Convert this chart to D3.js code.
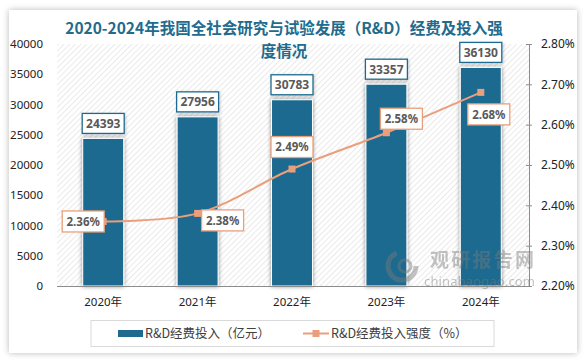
<!DOCTYPE html>
<html>
<head>
<meta charset="utf-8">
<script src="https://cdn.jsdelivr.net/npm/d3@7"></script>
<style>
  body { margin: 0; background: #fff; }
  svg { display: block; }
</style>
</head>
<body>
<svg id="chart" width="585" height="360"></svg>
<script>
// data
const years = ['2020年', '2021年', '2022年', '2023年', '2024年'];
const rdSpend = [24393, 27956, 30783, 33357, 36130];          // 亿元
const rdIntensity = [2.36, 2.38, 2.49, 2.58, 2.68];           // %
const leftTicks = [0, 5000, 10000, 15000, 20000, 25000, 30000, 35000, 40000];
const rightTicks = [2.2, 2.3, 2.4, 2.5, 2.6, 2.7, 2.8];
const titleLines = ['2020-2024年我国全社会研究与试验发展（R&D）经费及投入强', '度情况'];
const legendNames = ['R&D经费投入（亿元）', 'R&D经费投入强度（%）'];

// label placement for the % boxes (dx, dy from the marker)
const pctLabelShift = [[-20, 0], [25, 7], [0, -22], [15, -14], [8, 22]];

const barColor = '#1f6b8f';
const lineColor = '#e99f7c';
const titleColor = '#216b8d';
const font = '"Noto Sans", "Noto Sans CJK SC", sans-serif';
const cjk = '"Noto Sans CJK SC", "Noto Sans", sans-serif';

const svg = d3.select('#chart');
const defs = svg.append('defs');

// card shadow
const cardShadow = defs.append('filter').attr('id', 'cardShadow')
  .attr('x', '-5%').attr('y', '-5%').attr('width', '110%').attr('height', '110%');
cardShadow.append('feDropShadow').attr('dx', 0).attr('dy', 0)
  .attr('stdDeviation', 3).attr('flood-color', '#000').attr('flood-opacity', 0.28);

// bar shadow
const barShadow = defs.append('filter').attr('id', 'barShadow')
  .attr('x', '-30%').attr('y', '-10%').attr('width', '160%').attr('height', '120%');
barShadow.append('feDropShadow').attr('dx', 0).attr('dy', 0)
  .attr('stdDeviation', 2).attr('flood-color', '#000').attr('flood-opacity', 0.45);

const boxShadow = defs.append('filter').attr('id', 'boxShadow')
  .attr('x', '-20%').attr('y', '-20%').attr('width', '140%').attr('height', '140%');
boxShadow.append('feDropShadow').attr('dx', 1).attr('dy', 1)
  .attr('stdDeviation', 1.5).attr('flood-color', '#000').attr('flood-opacity', 0.2);

// hatch background
const hatch = defs.append('pattern').attr('id', 'hatch')
  .attr('patternUnits', 'userSpaceOnUse').attr('width', 4).attr('height', 4)
  .attr('patternTransform', 'rotate(45)');
hatch.append('rect').attr('width', 4).attr('height', 4).attr('fill', '#fff');
hatch.append('line').attr('x1', 0).attr('y1', 0).attr('x2', 0).attr('y2', 4)
  .attr('stroke', '#d6d6d6').attr('stroke-width', 1);

// card
svg.append('rect').attr('x', 9).attr('y', 10).attr('width', 568).attr('height', 343)
  .attr('fill', '#fff').attr('filter', 'url(#cardShadow)');

const plotL = 57, plotR = 529, plotT = 44, plotB = 286;

svg.append('rect').attr('x', plotL).attr('y', plotT)
  .attr('width', plotR - plotL).attr('height', plotB - plotT)
  .attr('fill', 'url(#hatch)');

// scales
const x = d3.scaleBand().domain(years).range([56, 528])
  .paddingInner(0.566).paddingOuter(0.283);
const yL = d3.scaleLinear().domain([0, 40000]).range([plotB, plotT]);
const yR = d3.scaleLinear().domain([2.2, 2.8]).range([plotB, plotT]);
const cx = d => x(d) + x.bandwidth() / 2;

// title
svg.append('text').attr('text-anchor', 'middle')
  .attr('font-family', cjk).attr('font-weight', 'bold').attr('font-size', 15.5)
  .attr('fill', titleColor)
  .selectAll('tspan').data(titleLines).join('tspan')
  .attr('x', 284).attr('y', (d, i) => 34 + i * 22.5).text(d => d);

// left axis
const gL = svg.append('g').attr('transform', `translate(${plotL},0)`)
  .call(d3.axisLeft(yL).tickValues(leftTicks).tickFormat(d3.format('d'))
    .tickSize(0).tickPadding(14));
gL.select('.domain').remove();
gL.selectAll('text').attr('font-family', font).attr('font-size', 11.5).attr('fill', '#222');

// right axis
const gR = svg.append('g').attr('transform', `translate(${plotR},0)`)
  .call(d3.axisRight(yR).tickValues(rightTicks).tickFormat(d => d3.format('.2f')(d) + '%')
    .tickSize(3).tickSizeOuter(0).tickPadding(9));
gR.select('.domain').attr('stroke', '#8c8c8c');
gR.selectAll('.tick line').attr('stroke', '#8c8c8c').attr('x1', -3);
gR.selectAll('text').attr('font-family', font).attr('font-size', 12).attr('fill', '#222');

// bars
const bars = years.map((y, i) => ({ year: y, v: rdSpend[i] }));
svg.append('g').selectAll('rect').data(bars).join('rect')
  .attr('x', d => x(d.year)).attr('width', x.bandwidth())
  .attr('y', d => yL(d.v)).attr('height', d => yL(0) - yL(d.v))
  .attr('fill', barColor).attr('stroke', '#fff').attr('stroke-width', 1)
  .attr('filter', 'url(#barShadow)');

// bottom axis
const gB = svg.append('g').attr('transform', `translate(0,${plotB})`)
  .call(d3.axisBottom(x).tickSize(0).tickPadding(12));
gB.select('.domain').attr('stroke', '#8c8c8c').attr('d', `M${plotL},0.5H${plotR}`);
gB.selectAll('text').attr('font-family', font).attr('font-size', 11.5).attr('fill', '#222');

// value boxes above bars
const vLabels = svg.append('g').selectAll('g').data(bars).join('g')
  .attr('transform', d => `translate(${cx(d.year)},${yL(d.v) - 5 - 10})`);
vLabels.append('rect').attr('x', -21).attr('y', -10).attr('width', 42).attr('height', 20)
  .attr('fill', '#fff').attr('stroke', barColor).attr('stroke-width', 1.3)
  .attr('filter', 'url(#boxShadow)');
vLabels.append('text').attr('text-anchor', 'middle').attr('dy', '0.36em')
  .attr('font-family', font).attr('font-weight', 'bold').attr('font-size', 12)
  .attr('fill', '#595959').text(d => d.v);

// intensity line
const pts = years.map((y, i) => ({ year: y, v: rdIntensity[i], shift: pctLabelShift[i] }));
const line = d3.line().x(d => cx(d.year)).y(d => yR(d.v)).curve(d3.curveCatmullRom.alpha(0.5));
svg.append('path').datum(pts).attr('d', line)
  .attr('fill', 'none').attr('stroke', lineColor).attr('stroke-width', 2);
svg.append('g').selectAll('rect').data(pts).join('rect')
  .attr('x', d => cx(d.year) - 3.5).attr('y', d => yR(d.v) - 3.5)
  .attr('width', 7).attr('height', 7).attr('fill', lineColor);

const pLabels = svg.append('g').selectAll('g').data(pts).join('g')
  .attr('transform', d => `translate(${cx(d.year) + d.shift[0]},${yR(d.v) + d.shift[1]})`);
pLabels.append('rect').attr('x', -21).attr('y', -10.5).attr('width', 42).attr('height', 21)
  .attr('fill', '#fff').attr('stroke', lineColor).attr('stroke-width', 1.3);
pLabels.append('text').attr('text-anchor', 'middle').attr('dy', '0.36em')
  .attr('font-family', font).attr('font-weight', 'bold').attr('font-size', 11.5)
  .attr('fill', '#595959').text(d => d.v.toFixed(2) + '%');

// watermark
const wm = svg.append('g').attr('opacity', 0.45).attr('fill', '#7a7a7a');
wm.append('circle').attr('cx', 402).attr('cy', 266).attr('r', 14)
  .attr('fill', 'none').attr('stroke', '#7a7a7a').attr('stroke-width', 5)
  .attr('stroke-dasharray', '60 28');
wm.append('circle').attr('cx', 405).attr('cy', 266).attr('r', 6)
  .attr('fill', 'none').attr('stroke', '#7a7a7a').attr('stroke-width', 3);
wm.append('text').attr('x', 430).attr('y', 267).attr('font-family', cjk)
  .attr('font-weight', 'bold').attr('font-size', 19).attr('textLength', 104).text('观研报告网');
wm.append('text').attr('x', 424).attr('y', 286).attr('font-family', font)
  .attr('font-size', 13).attr('textLength', 111).text('chinabaogao.com');

// legend
const lg = svg.append('g');
lg.append('rect').attr('x', 91).attr('y', 320.5).attr('width', 403).attr('height', 26)
  .attr('fill', '#fff').attr('stroke', '#d9d9d9');
lg.append('rect').attr('x', 118).attr('y', 330).attr('width', 25).attr('height', 7).attr('fill', barColor);
lg.append('line').attr('x1', 303).attr('x2', 329).attr('y1', 333.5).attr('y2', 333.5)
  .attr('stroke', lineColor).attr('stroke-width', 2);
lg.append('rect').attr('x', 312.5).attr('y', 330).attr('width', 7).attr('height', 7).attr('fill', lineColor);
lg.selectAll('text').data(legendNames).join('text')
  .attr('x', (d, i) => i === 0 ? 145 : 331).attr('y', 333.5).attr('dy', '0.36em')
  .attr('font-family', cjk).attr('font-size', 12.5).attr('fill', '#404040')
  .text(d => d);
</script>
</body>
</html>
